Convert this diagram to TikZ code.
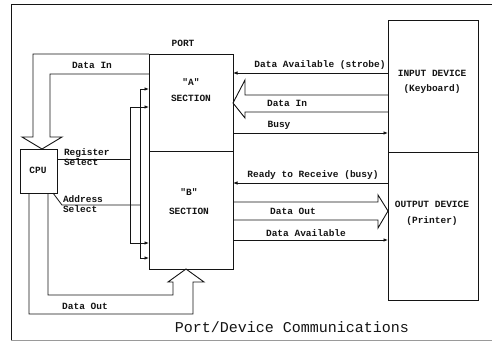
\documentclass[tikz,border=0pt]{standalone}
\usepackage{fontspec}
\setmonofont{Liberation Mono}
\usetikzlibrary{arrows.meta,calc}
\definecolor{PrintInk}{HTML}{141414}
\definecolor{PrintFaint}{HTML}{9A9A9A}
\tikzset{
  every node/.style={font=\ttfamily\bfseries\fontsize{9.5}{10}\selectfont, text=PrintInk, inner sep=0pt, outer sep=0pt},
  unit/.style={draw=PrintInk, line width=0.9pt, anchor=north west},
  device/.style={draw=PrintInk, line width=0.7pt, anchor=north west},
  sig/.style={draw=PrintInk, line width=0.8pt},
  fat/.style={draw=PrintInk, line width=0.9pt, line join=miter},
  tip/.tip={Latex[length=4.5pt,width=3.6pt]},
  caption/.style={font=\ttfamily\fontsize{15}{16}\selectfont},
}
\begin{document}
\begin{tikzpicture}[x=1pt,y=-1pt]
  \useasboundingbox (0,0) rectangle (492,342);
  % Page frame (open on the right)
  \draw[PrintInk, line width=0.9pt] (492,4) -- (11,4) -- (11,340);
  \draw[PrintFaint, line width=0.6pt] (11,340) -- (492,340);
  % Boxes
  \node[unit, minimum width=84pt, minimum height=97pt] (asec) at (149,54) {};
  \node[unit, minimum width=84pt, minimum height=118pt] (bsec) at (149,151) {};
  \node[unit, minimum width=37pt, minimum height=44pt] (cpu) at (20,149) {};
  \node[device, minimum width=90pt, minimum height=132pt] (indev) at (388,20) {};
  \node[device, minimum width=90pt, minimum height=148pt] (outdev) at (388,152) {};
  % Box texts
  \node (porttxt) at (183,43) {PORT};
  \node (atxt) at (191,82) {"A"};
  \node (asectxt) at (191,98) {SECTION};
  \node (btxt) at (189,192) {"B"};
  \node (bsectxt) at (189,211) {SECTION};
  \node (cputxt) at (38,170) {CPU};
  \node (intxt) at (432,73) {INPUT DEVICE};
  \node (kbtxt) at (432,89) {(Keyboard)};
  \node (outtxt) at (432,204) {OUTPUT DEVICE};
  \node (prtxt) at (432,221) {(Printer)};
  % Wide data paths between CPU and port
  \draw[fat] (asec.north west) -- (33,54) -- (33,137) -- (22,137) -- (42,0 |- cpu.north)
    -- (62,137) -- (50,137) -- (50,74) -- (asec.west |- 0,74);
  \node (dinl) at (92,65) {Data In};
  \draw[fat] (29,0 |- cpu.south) -- (29,314) -- (193,314) -- (193,282) -- (204,282)
    -- (186,0 |- bsec.south) -- (168,282) -- (173,282) -- (173,295) -- (48,295) -- (48,0 |- cpu.south);
  \node (doutl) at (85,306) {Data Out};
  % Select lines and bus to both sections
  \draw[sig, tip-tip] (asec.west |- 0,107) -- (130,107) -- (130,243) -- (bsec.west |- 0,243);
  \draw[sig, tip-tip] (asec.west |- 0,89) -- (140,89) -- (140,258) -- (bsec.west |- 0,258);
  \draw[sig] (cpu.east |- 0,159) -- (130,159);
  \draw[sig] ([xshift=-4pt]cpu.south east) -- (62,205) -- (140,205);
  \node[anchor=west, align=left] (regsel) at (64,157) {Register\\Select};
  \node[anchor=west, align=left] (adrsel) at (63,204) {Address\\Select};
  % Input device handshake
  \draw[sig, tip-] (asec.east |- 0,73) -- (indev.west |- 0,73);
  \node (strobe) at (320,65) {Data Available (strobe)};
  \draw[fat] (indev.west |- 0,95) -- (245,95) -- (245,80) -- (asec.east |- 0,103)
    -- (245,118) -- (245,112) -- (indev.west |- 0,112);
  \node (dinr) at (287,103) {Data In};
  \draw[sig, -tip] (asec.east |- 0,133) -- (indev.west |- 0,133);
  \node (busy) at (279,125) {Busy};
  % Output device handshake
  \draw[sig, tip-] (bsec.east |- 0,183) -- (outdev.west |- 0,183);
  \node (ready) at (313,175) {Ready to Receive (busy)};
  \draw[fat] (bsec.east |- 0,202) -- (378,202) -- (378,195) -- (outdev.west |- 0,211)
    -- (378,228) -- (378,220) -- (bsec.east |- 0,220);
  \node (doutr) at (293,211) {Data Out};
  \draw[sig, -tip] (bsec.east |- 0,240) -- (outdev.west |- 0,240);
  \node (davail) at (306,233) {Data Available};
  % Caption
  \node[caption] (title) at (292,327) {Port/Device Communications};
\end{tikzpicture}
\end{document}
